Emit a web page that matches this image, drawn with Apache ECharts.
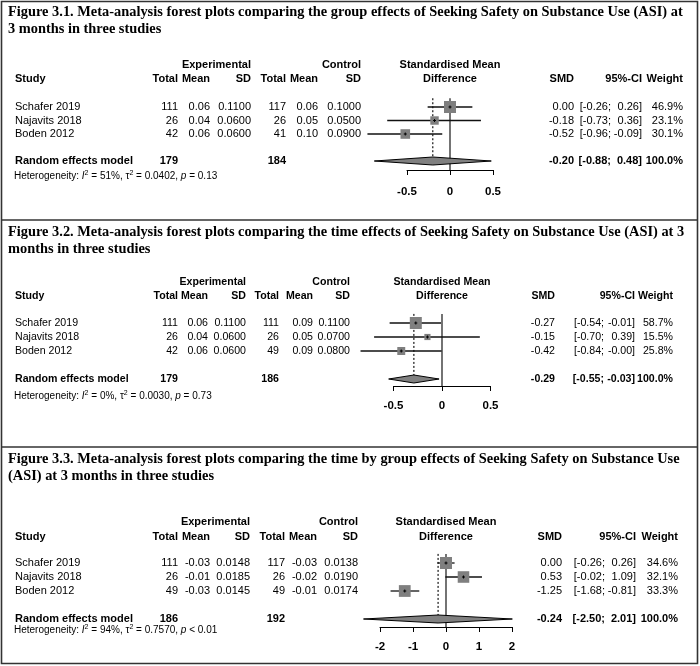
<!DOCTYPE html>
<html><head><meta charset="utf-8">
<script src="https://cdn.jsdelivr.net/npm/echarts@6/dist/echarts.min.js"></script>
<style>html,body{margin:0;padding:0;background:#fff}#c{width:700px;height:666px}</style>
</head><body><div id="c"></div>
<script>
// ================= DATA =================
const STUDIES = ['Schafer 2019', 'Najavits 2018', 'Boden 2012'];

// Figure 3.1 — group effects
const f1Title = ['Figure 3.1. Meta-analysis forest plots comparing the group effects of Seeking Safety on Substance Use (ASI) at', '3 months in three studies'];
const f1ExpTotal = [111, 26, 42];
const f1ExpMean = [0.06, 0.04, 0.06];
const f1ExpSD = [0.1100, 0.0600, 0.0600];
const f1CtlTotal = [117, 26, 41];
const f1CtlMean = [0.06, 0.05, 0.10];
const f1CtlSD = [0.1000, 0.0500, 0.0900];
const f1SMD = [0.00, -0.18, -0.52];
const f1Lower = [-0.26, -0.73, -0.96];
const f1Upper = [0.26, 0.36, -0.09];
const f1Weight = [46.9, 23.1, 30.1];
const f1Pooled = [-0.20, -0.88, 0.48];      // SMD, lower, upper
const f1PooledTotals = [179, 184];
const f1Het = ['51%', '0.0402', '= 0.13'];  // I2, tau2, p
const f1Ticks = [-0.5, 0, 0.5];

// Figure 3.2 — time effects
const f2Title = ['Figure 3.2. Meta-analysis forest plots comparing the time effects of Seeking Safety on Substance Use (ASI) at 3', 'months in three studies'];
const f2ExpTotal = [111, 26, 42];
const f2ExpMean = [0.06, 0.04, 0.06];
const f2ExpSD = [0.1100, 0.0600, 0.0600];
const f2CtlTotal = [111, 26, 49];
const f2CtlMean = [0.09, 0.05, 0.09];
const f2CtlSD = [0.1100, 0.0700, 0.0800];
const f2SMD = [-0.27, -0.15, -0.42];
const f2Lower = [-0.54, -0.70, -0.84];
const f2Upper = [-0.01, 0.39, -0.004];
const f2Weight = [58.7, 15.5, 25.8];
const f2Pooled = [-0.29, -0.55, -0.03];
const f2PooledTotals = [179, 186];
const f2Het = ['0%', '0.0030', '= 0.73'];
const f2Ticks = [-0.5, 0, 0.5];

// Figure 3.3 — time by group effects
const f3Title = ['Figure 3.3. Meta-analysis forest plots comparing the time by group effects of Seeking Safety on Substance Use', '(ASI) at 3 months in three studies'];
const f3ExpTotal = [111, 26, 49];
const f3ExpMean = [-0.03, -0.01, -0.03];
const f3ExpSD = [0.0148, 0.0185, 0.0145];
const f3CtlTotal = [117, 26, 49];
const f3CtlMean = [-0.03, -0.02, -0.01];
const f3CtlSD = [0.0138, 0.0190, 0.0174];
const f3SMD = [0.00, 0.53, -1.25];
const f3Lower = [-0.26, -0.02, -1.68];
const f3Upper = [0.26, 1.09, -0.81];
const f3Weight = [34.6, 32.1, 33.3];
const f3Pooled = [-0.24, -2.50, 2.01];
const f3PooledTotals = [186, 192];
const f3Het = ['94%', '0.7570', '< 0.01'];
const f3Ticks = [-2, -1, 0, 1, 2];

const HEADERS = { exp: 'Experimental', ctl: 'Control', smd1: 'Standardised Mean', smd2: 'Difference',
  study: 'Study', total: 'Total', mean: 'Mean', sd: 'SD', smd: 'SMD', ci: '95%-CI', weight: 'Weight',
  pooled: 'Random effects model', pooledWeight: '100.0%' };

const FIGS = [
  { title: f1Title, expN: f1ExpTotal, expM: f1ExpMean, expSD: f1ExpSD, ctlN: f1CtlTotal, ctlM: f1CtlMean, ctlSD: f1CtlSD,
    smd: f1SMD, lo: f1Lower, hi: f1Upper, w: f1Weight, pooled: f1Pooled, totals: f1PooledTotals, het: f1Het, ticks: f1Ticks },
  { title: f2Title, expN: f2ExpTotal, expM: f2ExpMean, expSD: f2ExpSD, ctlN: f2CtlTotal, ctlM: f2CtlMean, ctlSD: f2CtlSD,
    smd: f2SMD, lo: f2Lower, hi: f2Upper, w: f2Weight, pooled: f2Pooled, totals: f2PooledTotals, het: f2Het, ticks: f2Ticks },
  { title: f3Title, expN: f3ExpTotal, expM: f3ExpMean, expSD: f3ExpSD, ctlN: f3CtlTotal, ctlM: f3CtlMean, ctlSD: f3CtlSD,
    smd: f3SMD, lo: f3Lower, hi: f3Upper, w: f3Weight, pooled: f3Pooled, totals: f3PooledTotals, het: f3Het, ticks: f3Ticks }
];

// ================= LAYOUT (positions / styles) =================
const LAYOUT = [
  { top: 0, row0: 107, step: 13.5, axisPx: 170, zeroPx: 450, ppu: 86, h1: -3.1, h2: -2.05, pooledRow: 4, hetPx: 176, lblMargin: 16, fs: 11,
    cols: { study: 15, expN: 178, expM: 210, expSD: 251, ctlN: 286, ctlM: 318, ctlSD: 361, smd: 574, lo: 611, hi: 642, w: 683 } },
  { top: 220, row0: 323, step: 14, axisPx: 386, zeroPx: 442, ppu: 97, h1: -2.93, h2: -1.93, pooledRow: 4, hetPx: 396, lblMargin: 14, fs: 10.6,
    cols: { study: 15, expN: 178, expM: 208, expSD: 246, ctlN: 279, ctlM: 313, ctlSD: 350, smd: 555, lo: 604, hi: 635, w: 673 } },
  { top: 447, row0: 563, step: 14, axisPx: 627, zeroPx: 446, ppu: 33, h1: -2.93, h2: -1.86, pooledRow: 4, hetPx: 630, lblMargin: 14, fs: 11,
    cols: { study: 15, expN: 178, expM: 210, expSD: 250, ctlN: 285, ctlM: 317, ctlSD: 358, smd: 562, lo: 605, hi: 636, w: 678 } }
];
const SANS = "'Liberation Sans', Arial, Helvetica, sans-serif";
const SERIF = "'Liberation Serif', 'Times New Roman', serif";
const HET_FS = 10, TITLE_FS = 14.4;
const MAX_SIDE = 12, DIAMOND_HALF = 4, Y_MIN = -4, ZERO_TOP = -0.65;

// ================= BUILD =================
const grids = [], xAxes = [], yAxes = [], series = [], graphics = [];
function fmt(v, d) { return v.toFixed(d); }

FIGS.forEach((F, k) => {
  const L = LAYOUT[k], C = L.cols, FS = L.fs;
  const xMin = F.ticks[0], xMax = F.ticks[F.ticks.length - 1];
  const yMax = (L.axisPx - L.row0) / L.step;
  const gTop = L.row0 + Y_MIN * L.step;
  const gHeight = L.axisPx - gTop;
  const fLeft = L.zeroPx + xMin * L.ppu;
  const fWidth = (xMax - xMin) * L.ppu;
  const gi = grids.length;
  // forest grid
  grids.push({ left: fLeft, top: gTop, width: fWidth, height: gHeight, containLabel: false });
  xAxes.push({ type: 'value', gridIndex: gi, min: xMin, max: xMax, interval: F.ticks[1] - F.ticks[0],
    axisLine: { show: true, onZero: false, lineStyle: { color: '#000', width: 1 } },
    axisTick: { show: true, length: 5, inside: false, lineStyle: { color: '#000', width: 1 } },
    splitLine: { show: false },
    axisLabel: { margin: L.lblMargin, color: '#000', fontFamily: SANS, fontWeight: 'bold', fontSize: 11.5, showMinLabel: true, showMaxLabel: true } });
  yAxes.push({ type: 'value', gridIndex: gi, inverse: true, min: Y_MIN, max: yMax, show: false });
  // table grid
  const ti = grids.length;
  grids.push({ left: 0, top: gTop, width: 700, height: gHeight, containLabel: false });
  xAxes.push({ type: 'value', gridIndex: ti, min: 0, max: 700, show: false });
  yAxes.push({ type: 'value', gridIndex: ti, inverse: true, min: Y_MIN, max: yMax, show: false });

  // ---- forest marks ----
  const est = F.pooled[0];
  series.push({ type: 'line', xAxisIndex: gi, yAxisIndex: gi, symbol: 'none', silent: true, clip: false, z: 2,
    lineStyle: { color: '#000', width: 1.1 }, data: [[0, ZERO_TOP], [0, yMax]] });
  series.push({ type: 'line', xAxisIndex: gi, yAxisIndex: gi, symbol: 'none', silent: true, clip: false, z: 2,
    lineStyle: { color: '#000', width: 1.1, type: [2, 2] }, data: [[est, ZERO_TOP], [est, L.pooledRow]] });
  const wMax = Math.max.apply(null, F.w);
  series.push({ type: 'custom', xAxisIndex: gi, yAxisIndex: gi, clip: false, silent: true, z: 3,
    data: F.smd.map((s, i) => [s, i, F.lo[i], F.hi[i], F.w[i]]),
    renderItem: (params, api) => {
      const c = api.coord([api.value(0), api.value(1)]);
      const a = api.coord([api.value(2), api.value(1)]);
      const b = api.coord([api.value(3), api.value(1)]);
      const side = MAX_SIDE * Math.sqrt(api.value(4) / wMax);
      return { type: 'group', children: [
        { type: 'line', shape: { x1: a[0], y1: a[1], x2: b[0], y2: b[1] }, style: { stroke: '#111', lineWidth: 1.3 } },
        { type: 'rect', shape: { x: c[0] - side / 2, y: c[1] - side / 2, width: side, height: side }, style: { fill: '#7f7f7f' } },
        { type: 'line', shape: { x1: c[0] - 1.5, y1: c[1], x2: c[0] + 1.5, y2: c[1] }, style: { stroke: '#000', lineWidth: 1 } },
        { type: 'line', shape: { x1: c[0], y1: c[1] - 1.5, x2: c[0], y2: c[1] + 1.5 }, style: { stroke: '#000', lineWidth: 1 } }
      ] };
    } });
  series.push({ type: 'custom', xAxisIndex: gi, yAxisIndex: gi, clip: false, silent: true, z: 4,
    data: [[F.pooled[0], L.pooledRow, F.pooled[1], F.pooled[2]]],
    renderItem: (params, api) => {
      const c = api.coord([api.value(0), api.value(1)]);
      const a = api.coord([api.value(2), api.value(1)]);
      const b = api.coord([api.value(3), api.value(1)]);
      return { type: 'polygon', shape: { points: [[a[0], a[1]], [c[0], c[1] - DIAMOND_HALF], [b[0], b[1]], [c[0], c[1] + DIAMOND_HALF]] },
        style: { fill: '#808080', stroke: '#000', lineWidth: 1 } };
    } });

  // ---- table text ----
  const items = [];
  const add = (x, row, t, a, bold, extra) => items.push(Object.assign({ x, row, t, a, bold }, extra || {}));
  const center = fLeft + fWidth / 2;
  add(C.expSD, L.h1, HEADERS.exp, 'right', true);
  add(C.ctlSD, L.h1, HEADERS.ctl, 'right', true);
  add(center, L.h1, HEADERS.smd1, 'center', true);
  add(C.study, L.h2, HEADERS.study, 'left', true);
  add(C.expN, L.h2, HEADERS.total, 'right', true);
  add(C.expM, L.h2, HEADERS.mean, 'right', true);
  add(C.expSD, L.h2, HEADERS.sd, 'right', true);
  add(C.ctlN, L.h2, HEADERS.total, 'right', true);
  add(C.ctlM, L.h2, HEADERS.mean, 'right', true);
  add(C.ctlSD, L.h2, HEADERS.sd, 'right', true);
  add(center, L.h2, HEADERS.smd2, 'center', true);
  add(C.smd, L.h2, HEADERS.smd, 'right', true);
  add(C.hi, L.h2, HEADERS.ci, 'right', true);
  add(C.w, L.h2, HEADERS.weight, 'right', true);
  STUDIES.forEach((s, i) => {
    add(C.study, i, s, 'left', false);
    add(C.expN, i, String(F.expN[i]), 'right', false);
    add(C.expM, i, fmt(F.expM[i], 2), 'right', false);
    add(C.expSD, i, fmt(F.expSD[i], 4), 'right', false);
    add(C.ctlN, i, String(F.ctlN[i]), 'right', false);
    add(C.ctlM, i, fmt(F.ctlM[i], 2), 'right', false);
    add(C.ctlSD, i, fmt(F.ctlSD[i], 4), 'right', false);
    add(C.smd, i, fmt(F.smd[i], 2), 'right', false);
    add(C.lo, i, '[' + fmt(F.lo[i], 2) + ';', 'right', false);
    add(C.hi, i, fmt(F.hi[i], 2) + ']', 'right', false);
    add(C.w, i, fmt(F.w[i], 1) + '%', 'right', false);
  });
  const pr = L.pooledRow;
  add(C.study, pr, HEADERS.pooled, 'left', true);
  add(C.expN, pr, String(F.totals[0]), 'right', true);
  add(C.ctlN, pr, String(F.totals[1]), 'right', true);
  add(C.smd, pr, fmt(F.pooled[0], 2), 'right', true);
  add(C.lo, pr, '[' + fmt(F.pooled[1], 2) + ';', 'right', true);
  add(C.hi, pr, fmt(F.pooled[2], 2) + ']', 'right', true);
  add(C.w, pr, HEADERS.pooledWeight, 'right', true);
  const hetRow = (L.hetPx - L.row0) / L.step;
  add(C.study - 1, hetRow, '{n|Heterogeneity: }{i|I}{s|2}{n| = ' + F.het[0] + ', \u03c4}{s|2}{n| = ' + F.het[1] + ', }{i|p}{n| ' + F.het[2] + '}', 'left', false,
    { rich: {
      n: { fontFamily: SANS, fontSize: HET_FS, fill: '#000', color: '#000', lineHeight: 12 },
      i: { fontFamily: SANS, fontSize: HET_FS, fontStyle: 'italic', fill: '#000', color: '#000', lineHeight: 12 },
      s: { fontFamily: SANS, fontSize: 7, fill: '#000', color: '#000', verticalAlign: 'top', lineHeight: 12, padding: [0, 0, 4, 0] }
    } });

  series.push({ type: 'custom', xAxisIndex: ti, yAxisIndex: ti, clip: false, silent: true, z: 5,
    data: items.map(it => [it.x, it.row]),
    renderItem: (params, api) => {
      const it = items[params.dataIndex];
      const p = api.coord([api.value(0), api.value(1)]);
      const st = { text: it.t, x: p[0], y: p[1], fill: '#000', textAlign: it.a, textVerticalAlign: 'middle', align: it.a, verticalAlign: 'middle',
        font: (it.bold ? 'bold ' : '') + FS + 'px ' + SANS };
      if (it.rich) st.rich = it.rich;
      return { type: 'text', style: st };
    } });

  // ---- titles ----
  F.title.forEach((line, j) => {
    graphics.push({ type: 'text', left: 8, top: L.top + 5 + j * 17, silent: true,
      style: { text: line, fill: '#000', font: 'bold ' + TITLE_FS + 'px ' + SERIF } });
  });
});

// frame & separators
graphics.push({ type: 'rect', silent: true, shape: { x: 1.5, y: 1.5, width: 696, height: 662 }, style: { fill: 'none', stroke: '#333', lineWidth: 1.6 } });
[220, 447].forEach(y => graphics.push({ type: 'line', silent: true, shape: { x1: 1.5, y1: y, x2: 697.5, y2: y }, style: { stroke: '#333', lineWidth: 1.6 } }));

const chart = echarts.init(document.getElementById('c'), null, { renderer: 'canvas' });
chart.setOption({
  animation: false,
  backgroundColor: '#fff',
  grid: grids, xAxis: xAxes, yAxis: yAxes, series: series, graphic: graphics
});
</script>
</body></html>
